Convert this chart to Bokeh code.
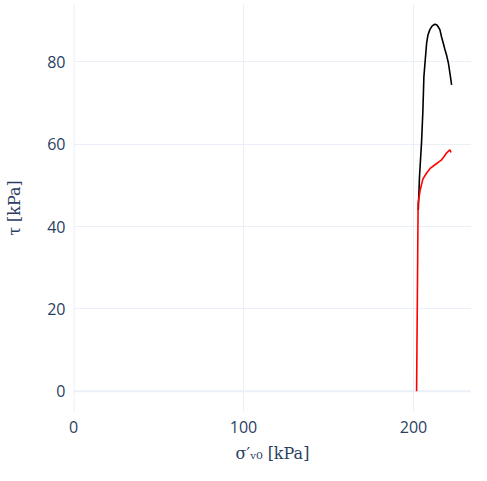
from bokeh.plotting import figure
from bokeh.models import Span, FixedTicker, Range1d
from bokeh.embed import file_html
from bokeh.resources import INLINE

# Data
red_x = [201.8, 202.0, 202.3, 202.7, 204.0, 205.5, 207.7, 210.0, 212.6, 214.5, 216.5, 218.0, 219.5, 220.8, 221.5, 222.0]
red_y = [0.0, 10.0, 25.0, 45.7, 49.0, 51.5, 53.0, 54.2, 55.0, 55.6, 56.2, 57.0, 57.9, 58.4, 58.6, 58.0]

black_x = [202.8, 203.5, 204.7, 205.5, 206.1, 207.0, 207.7, 208.5, 209.6, 211.0, 212.5, 213.6, 214.5, 215.5, 216.5, 217.5, 218.5, 219.5, 220.5, 221.5, 222.4]
black_y = [44.0, 52.0, 60.3, 68.0, 76.4, 81.0, 84.5, 86.5, 87.8, 88.7, 89.1, 89.0, 88.5, 87.8, 86.0, 84.5, 82.9, 81.5, 79.7, 77.0, 74.4]

x_ticks = [0, 100, 200]
y_ticks = [0, 20, 40, 60, 80]

x_title = "σ′ᵥ₀ [kPa]"
y_title = "τ [kPa]"

GRID = "#EBF0F8"
FONT_COLOR = "#2a3f5f"

p = figure(width=471, height=465, output_backend="svg", toolbar_location=None,
           x_range=Range1d(0, 234.1), y_range=Range1d(-4.9, 93.9),
           min_border_left=73, min_border_right=0, min_border_top=4, min_border_bottom=52)
p.outline_line_color = None
p.background_fill_color = "white"
p.border_fill_color = "white"

p.line(black_x, black_y, line_color="black", line_width=1.6)
p.line(red_x, red_y, line_color="red", line_width=1.6)

for dim, loc in (("height", 0), ("width", 0)):
    p.add_layout(Span(location=loc, dimension=dim, line_color=GRID, line_width=2, level="underlay"))

p.xaxis.ticker = FixedTicker(ticks=x_ticks)
p.yaxis.ticker = FixedTicker(ticks=y_ticks)
for ax in (p.xaxis[0], p.yaxis[0]):
    ax.axis_line_color = None
    ax.major_tick_line_color = None
    ax.minor_tick_line_color = None
    ax.major_label_text_font = "Open Sans"
    ax.major_label_text_font_size = "16px"
    ax.major_label_text_color = FONT_COLOR
    ax.axis_label_text_font = "DejaVu Serif"
    ax.axis_label_text_font_style = "normal"
    ax.axis_label_text_font_size = "16px"
    ax.axis_label_text_color = FONT_COLOR
p.xaxis.axis_label = x_title
p.yaxis.axis_label = y_title
p.xaxis.major_label_standoff = 3
p.yaxis.major_label_standoff = 2
p.xaxis.axis_label_standoff = 8
p.yaxis.axis_label_standoff = 20

p.xgrid.ticker = FixedTicker(ticks=x_ticks)
p.ygrid.ticker = FixedTicker(ticks=y_ticks)
p.xgrid.grid_line_color = GRID
p.ygrid.grid_line_color = GRID
p.xgrid.grid_line_width = 1
p.ygrid.grid_line_width = 1

open("out.html", "w").write(file_html(p, INLINE))
